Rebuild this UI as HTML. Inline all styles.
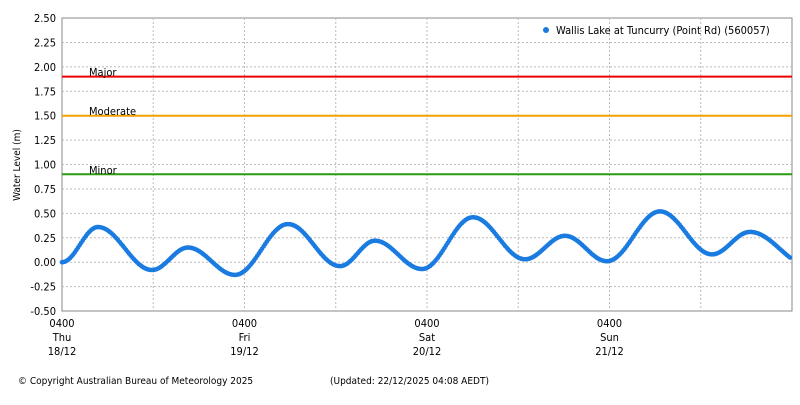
<!DOCTYPE html>
<html><head><meta charset="utf-8"><style>
body{margin:0;background:#fff;width:800px;height:400px;overflow:hidden;}
text{font-family:"DejaVu Sans Condensed","Liberation Sans",sans-serif;font-size:11px;fill:#000}
</style></head><body>
<svg id="s" width="800" height="400" xmlns="http://www.w3.org/2000/svg">
<rect x="62" y="18" width="730" height="293" fill="#fff" stroke="#888"/>
<g id="grid" stroke="#bbb" stroke-dasharray="2,2" stroke-width="1"></g>
<g id="ylab"></g>
<line x1="62" x2="792" y1="76.6" y2="76.6" stroke="#e00" stroke-width="2"/>
<line x1="62" x2="792" y1="115.7" y2="115.7" stroke="#f5a000" stroke-width="2"/>
<line x1="62" x2="792" y1="174.3" y2="174.3" stroke="#2a9a10" stroke-width="2"/>
<text x="89" y="76">Major</text>
<text x="89" y="115">Moderate</text>
<text x="89" y="174">Minor</text>
<g id="pts" fill="#1a7be0"></g>
<circle cx="546" cy="30" r="3" fill="#1a7be0"/>
<text x="556" y="34">Wallis Lake at Tuncurry (Point Rd) (560057)</text>
<text transform="translate(20,165) rotate(-90)" text-anchor="middle" style="font-size:10px">Water Level (m)</text>
<g id="xlab" text-anchor="middle"></g>
<text x="18" y="384" style="font-size:10px">© Copyright Australian Bureau of Meteorology 2025</text>
<text x="330" y="384" style="font-size:10px">(Updated: 22/12/2025 04:08 AEDT)</text>
</svg>
<script>
const ns="http://www.w3.org/2000/svg";
function el(p,t,a,tx){const e=document.createElementNS(ns,t);for(const k in a)e.setAttribute(k,a[k]);if(tx)e.textContent=tx;document.getElementById(p).appendChild(e);}
const Y=v=>262.2-v*97.67;
for(let i=0;i<=12;i++){const v=-0.5+i*0.25;const y=Y(v);
 if(i>0&&i<12)el('grid','line',{x1:62,x2:792,y1:y,y2:y});
 el('ylab','text',{x:56,y:y+4,'text-anchor':'end'},v.toFixed(2));}
for(let i=1;i<8;i++){const x=62+i*91.25;el('grid','line',{x1:x,x2:x,y1:18,y2:311});}
const days=[["Thu","18/12"],["Fri","19/12"],["Sat","20/12"],["Sun","21/12"]];
for(let i=0;i<4;i++){const x=62+i*182.5;
 el('xlab','text',{x:x,y:327},"0400");el('xlab','text',{x:x,y:341},days[i][0]);el('xlab','text',{x:x,y:355},days[i][1]);}
const k=[[62,0.0],[98,0.36],[152,-0.08],[188,0.15],[235,-0.13],[288,0.39],[340,-0.04],[375,0.22],[422,-0.07],[473,0.46],[525,0.03],[565,0.27],[607,0.01],[660,0.52],[712,0.08],[750,0.31],[810,-0.04]];
for(let x=62;x<=791;x+=1.6){let j=0;while(k[j+1][0]<x)j++;const a=k[j],b=k[j+1];const t=(x-a[0])/(b[0]-a[0]);
 const v=a[1]+(b[1]-a[1])*(1-Math.cos(Math.PI*t))/2;el('pts','circle',{cx:x,cy:Y(v),r:2.3});}
</script>
</body></html>
